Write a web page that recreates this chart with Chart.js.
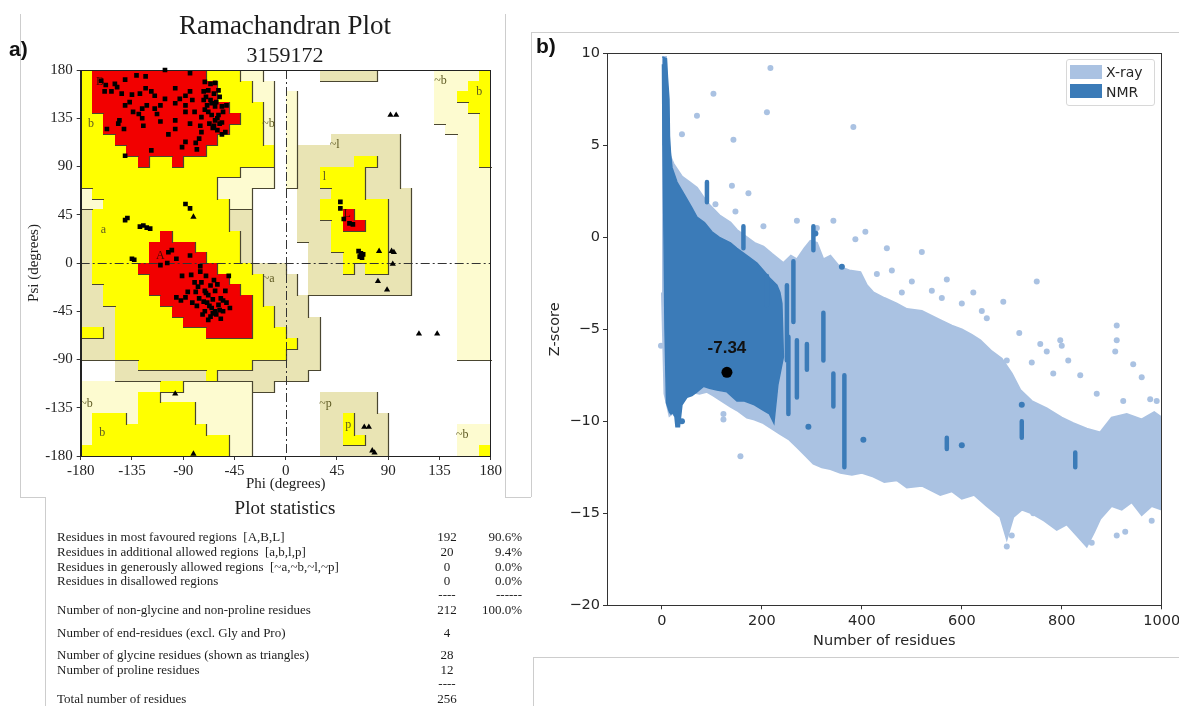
<!DOCTYPE html>
<html>
<head>
<meta charset="utf-8">
<title>Ramachandran plot and ProSA Z-score</title>
<script src="https://cdn.jsdelivr.net/npm/chart.js@4.4.1/dist/chart.umd.min.js"></script>
<style>
  html, body { margin: 0; padding: 0; background: #fff; }
  body { width: 1179px; height: 706px; position: relative; overflow: hidden; font-family: 'Liberation Serif', serif; color: #1c1c1c; }
  canvas { position: absolute; }
  .vr { position: absolute; width: 0; border-left: 1px solid #cdcdcd; }
  .hr { position: absolute; height: 0; border-top: 1px solid #cdcdcd; }
  .tag { position: absolute; font-family: 'Liberation Sans', Arial, sans-serif; font-weight: bold; font-size: 21px; line-height: 24px; color: #111; }
  .title { position: absolute; left: 0; width: 570px; text-align: center; }
  .row { position: absolute; left: 0; width: 530px; height: 15px; line-height: 15px; font-size: 13px; }
  .row .lbl { position: absolute; left: 57px; white-space: pre; }
  .row .num { position: absolute; left: 427px; width: 40px; text-align: center; }
  .row .pct { position: absolute; right: 8px; }
  .legend { position: absolute; left: 1066px; top: 59px; width: 89px; height: 47px; box-sizing: border-box;
            border: 1px solid #d8d8d8; border-radius: 3px; background: rgba(255,255,255,0.85);
            font-family: 'DejaVu Sans', sans-serif; font-size: 14px; color: #262626; }
  .legend .sw { position: absolute; left: 3px; width: 32px; height: 14px; }
  .legend .tx { position: absolute; left: 39px; line-height: 16px; }
</style>
</head>
<body>

<!-- frame lines of the pasted panels -->
<div class="vr" style="left:20px; top:14px; height:483px"></div>
<div class="hr" style="left:20px; top:497px; width:25px"></div>
<div class="vr" style="left:45px; top:497px; height:209px"></div>
<div class="vr" style="left:505px; top:14px; height:483px"></div>
<div class="hr" style="left:505px; top:497px; width:26px"></div>
<div class="vr" style="left:531px; top:32px; height:465px"></div>
<div class="hr" style="left:531px; top:32px; width:648px"></div>
<div class="hr" style="left:533px; top:657px; width:646px"></div>
<div class="vr" style="left:533px; top:657px; height:49px"></div>

<canvas id="rama" width="520" height="500" style="left:0; top:0; width:520px; height:500px"></canvas>
<canvas id="zplot" width="690" height="660" style="left:530px; top:0; width:690px; height:660px"></canvas>

<div class="tag" style="left:9px; top:37px">a)</div>
<div class="tag" style="left:536px; top:34px">b)</div>

<div class="title" style="top:10px; font-size:27px; line-height:30px">Ramachandran Plot</div>
<div class="title" style="top:43px; font-size:22px; line-height:24px">3159172</div>
<div class="title" style="top:497px; font-size:19px; line-height:22px">Plot statistics</div>

<div class="row" style="top:529px"><span class="lbl">Residues in most favoured regions  [A,B,L]</span><span class="num">192</span><span class="pct">90.6%</span></div>
<div class="row" style="top:544px"><span class="lbl">Residues in additional allowed regions  [a,b,l,p]</span><span class="num">20</span><span class="pct">9.4%</span></div>
<div class="row" style="top:559px"><span class="lbl">Residues in generously allowed regions  [~a,~b,~l,~p]</span><span class="num">0</span><span class="pct">0.0%</span></div>
<div class="row" style="top:573px"><span class="lbl">Residues in disallowed regions</span><span class="num">0</span><span class="pct">0.0%</span></div>
<div class="row" style="top:587px"><span class="num">----</span><span class="pct">------</span></div>
<div class="row" style="top:602px"><span class="lbl">Number of non-glycine and non-proline residues</span><span class="num">212</span><span class="pct">100.0%</span></div>
<div class="row" style="top:625px"><span class="lbl">Number of end-residues (excl. Gly and Pro)</span><span class="num">4</span></div>
<div class="row" style="top:647px"><span class="lbl">Number of glycine residues (shown as triangles)</span><span class="num">28</span></div>
<div class="row" style="top:662px"><span class="lbl">Number of proline residues</span><span class="num">12</span></div>
<div class="row" style="top:676px"><span class="num">----</span></div>
<div class="row" style="top:691px"><span class="lbl">Total number of residues</span><span class="num">256</span></div>

<div class="legend">
  <div class="sw" style="top:5px; background:#aac2e2"></div><div class="tx" style="top:4px">X-ray</div>
  <div class="sw" style="top:24px; background:#3b7bb8"></div><div class="tx" style="top:24px">NMR</div>
</div>

<script>
'use strict';

/* ---------- panel a: Ramachandran plot ---------- */
const angleTicks = [-180, -135, -90, -45, 0, 45, 90, 135, 180];

// region boxes, degrees: [phiMin, phiMax, psiMin, psiMax]
const generousPale = [
  [-40, -20, 170, 180], [-30, -10, 150, 170], [-20, -10, 110, 150], [0, 10, 70, 160],
  [-40, -10, 80, 90], [-60, -10, 70, 80], [-180, -170, 60, 70], [-60, -30, 60, 70],
  [-180, -160, 50, 60], [-50, -30, 50, 60], [130, 180, 130, 180], [140, 180, 120, 130],
  [150, 180, -90, 120], [150, 180, -180, -150], [-180, -30, -180, -110]
];
const generousKhaki = [
  [30, 80, 170, 180], [40, 100, 110, 120], [10, 100, 70, 110], [10, 110, 20, 70], [20, 110, -30, 20],
  [-60, -30, 0, 50], [-30, 0, -10, 0], [-20, 0, -40, -10], [-10, 0, -60, -40], [0, 10, -30, -10],
  [0, 20, -50, -30], [0, 30, -100, -50], [0, 20, -110, -100], [-30, 0, -100, -90],
  [-150, 0, -110, -100], [-150, -130, -100, -90], [-30, -10, -120, -110],
  [-180, -170, -20, 50], [-180, -160, -40, -20], [-180, -150, -60, -40], [-160, -150, -70, -60],
  [-180, -150, -90, -70], [30, 80, -180, -120], [80, 90, -180, -140]
];
const allowedBoxes = [
  [-180, -40, 170, 180], [-180, -30, 150, 170], [-180, -20, 110, 150], [-180, -10, 90, 110],
  [-180, -40, 80, 90], [-180, -60, 70, 80], [-170, -60, 60, 70], [-160, -50, 50, 60],
  [-170, -50, 30, 50], [-170, -40, 0, 30], [-170, -30, -10, 0], [-170, -20, -20, -10],
  [-160, -20, -40, -20], [-150, -10, -60, -40], [-180, -160, -70, -60], [-150, 0, -70, -60],
  [-150, 0, -90, -70], [0, 10, -80, -70], [-130, -30, -100, -90], [-70, -60, -110, -100],
  [-110, -90, -120, -110], [-130, -110, -130, -120], [-130, -80, -140, -130],
  [-170, -140, -150, -140], [-130, -80, -150, -140], [-170, -70, -160, -150],
  [-170, -50, -170, -160], [-180, -50, -180, -170],
  [60, 80, 90, 100], [30, 70, 70, 90], [40, 70, 60, 70], [30, 90, 40, 60], [40, 90, 10, 40],
  [50, 90, 0, 10], [50, 60, -10, 0], [70, 90, -10, 0], [50, 60, -170, -140], [50, 70, -170, -160],
  [170, 180, 90, 180], [160, 170, 140, 170], [150, 160, 150, 160], [170, 180, -180, -170]
];
const coreBoxes = [
  [-170, -70, 170, 180], [-170, -60, 150, 170], [-170, -50, 140, 150], [-160, -40, 130, 140],
  [-160, -50, 120, 130], [-150, -60, 110, 120], [-140, -70, 100, 110], [-130, -120, 90, 100],
  [-100, -90, 90, 100],
  [-110, -100, 20, 30], [-120, -80, 10, 20], [-120, -70, 0, 10], [-130, -60, -10, 0],
  [-120, -50, -20, -10], [-120, -40, -30, -20], [-110, -30, -40, -30], [-100, -30, -50, -40],
  [-90, -30, -60, -50], [-70, -30, -70, -60],
  [50, 60, 40, 50], [50, 70, 30, 40]
];

// non-glycine residues [phi, psi]
const residues = [
  [-162, 170], [-158, 166], [-150, 167], [-141, 171], [-131, 175], [-123, 174], [-106, 180], [-84, 177],
  [-71, 169], [-66, 167], [-62, 168], [-159, 160], [-148, 164], [-144, 158], [-128, 158], [-123, 163],
  [-118, 160], [-115, 156], [-97, 163], [-88, 156], [-84, 160], [-72, 160], [-68, 161], [-63, 158],
  [-59, 161], [-141, 147], [-137, 150], [-126, 144], [-122, 147], [-110, 147], [-106, 153], [-97, 149],
  [-93, 153], [-88, 147], [-82, 152], [-72, 152], [-69, 147], [-65, 149], [-62, 146], [-56, 146],
  [-52, 147], [-146, 133], [-134, 141], [-129, 139], [-126, 135], [-115, 144], [-97, 133], [-88, 141],
  [-80, 141], [-74, 136], [-68, 141], [-65, 138], [-59, 138], [-55, 141], [-62, 133], [-58, 130],
  [-157, 125], [-147, 130], [-142, 125], [-125, 128], [-97, 125], [-84, 130], [-74, 122], [-63, 128],
  [-56, 131], [-53, 122], [-60, 124], [-141, 100], [-118, 105], [-91, 108], [-88, 113], [-78, 106],
  [-76, 116], [-56, 120], [-70, 155], [-66, 152], [-61, 150], [-58, 155], [-67, 130], [-64, 126],
  [-71, 143], [-60, 135], [-75, 128], [-79, 112], [-103, 120], [-110, 132], [-113, 139], [-135, 157],
  [-153, 160],
  [-135, 4], [-133, 3], [-110, -2], [-104, 0], [-103, 10], [-100, 12], [-96, 4], [-84, 7], [-75, -3],
  [-91, -12], [-83, -11], [-50, -12], [-96, -32], [-80, -18], [-77, -22], [-74, -18], [-71, -26],
  [-69, -37], [-68, -30], [-66, -21], [-65, -42], [-64, -34], [-62, -26], [-61, -48], [-59, -39],
  [-57, -33], [-55, -45], [-53, -26], [-52, -37], [-49, -42], [-71, -45], [-73, -48], [-78, -40],
  [-82, -37], [-88, -32], [-92, -35], [-66, -50], [-62, -45], [-58, -44], [-68, -53], [-70, -28],
  [-76, -33], [-63, -16], [-79, -27], [-86, -27], [-60, -20], [-57, -52], [-72, -36], [-67, -40],
  [-64, -47], [-55, -35], [-70, -12], [-75, -8],
  [-141, 40], [-139, 42], [-128, 34], [-125, 35], [-122, 33], [-119, 32], [-88, 55], [-84, 51],
  [48, 57], [48, 51], [51, 41], [56, 37], [59, 36], [64, 11], [66, 9], [65, 6], [68, 8], [67, 5]
];
// glycine residues [phi, psi]
const glycines = [
  [-81, 43], [92, 138], [97, 138], [82, 11], [93, 11], [95, 10], [94, -1], [81, -17], [89, -25],
  [117, -66], [133, -66], [-97, -122], [-81, -178], [69, -153], [73, -153], [76, -175], [78, -177]
];

const regionLabels = [
  ['B', -163, 169], ['b', -171, 130], ['~b', -15, 130], ['a', -160, 31], ['A', -110, 7],
  ['~a', -15, -15], ['~l', 43, 110], ['l', 34, 80], ['L', 54, 46], ['~b', 136, 170],
  ['b', 170, 160], ['~b', -175, -131], ['b', -161, -158], ['~p', 35, -131], ['p', 55, -151],
  ['~b', 155, -160]
];

/* ---------- panel b: ProSA Z-score ---------- */
const residueTicks = [0, 200, 400, 600, 800, 1000];
const zTicks = [-20, -15, -10, -5, 0, 5, 10];

// outline of the X-ray cloud [residues, z]
const xrayUpper = [
  [0, 9.8], [8, 9.8], [10, 6.5], [15, 4.5], [23, 4.0], [40, 3.3], [55, 3.0], [70, 2.7], [85, 2.1],
  [97, 1.7], [115, 1.2], [137, 0.8], [150, 0.4], [170, 0.0], [185, -0.3], [203, -0.5], [220, -0.9],
  [243, -1.4], [258, -1.0], [270, -1.2], [285, -0.6], [297, -0.2], [310, -0.3], [323, -1.2],
  [337, -1.0], [355, -1.6], [375, -1.8], [397, -1.9], [410, -2.6], [423, -3.0], [445, -3.3],
  [470, -3.6], [490, -3.9], [520, -4.0], [557, -4.5], [580, -4.8], [600, -5.0], [620, -5.3],
  [637, -5.6], [660, -6.2], [680, -6.6], [700, -7.4], [717, -8.3], [740, -8.9], [770, -9.3],
  [800, -9.8], [823, -10.1], [850, -10.4], [877, -10.6], [900, -9.8], [930, -9.6], [960, -9.9],
  [985, -9.5], [1000, -9.8]
];
const xrayLower = [
  [0, -3.0], [5, -8.5], [15, -9.7], [30, -9.4], [45, -8.8], [56, -8.4], [75, -8.5], [90, -8.4],
  [103, -8.6], [120, -8.9], [137, -9.2], [150, -9.4], [170, -9.8], [185, -9.9], [203, -10.1],
  [220, -10.4], [237, -10.7], [255, -11.0], [270, -11.4], [285, -11.8], [303, -12.3], [320, -12.5],
  [337, -12.6], [357, -12.8], [380, -12.9], [400, -12.8], [423, -13.0], [445, -13.3], [470, -13.2],
  [490, -13.6], [520, -13.5], [557, -14.0], [580, -13.8], [600, -14.2], [625, -14.0], [650, -14.6],
  [677, -15.2], [690, -16.4], [703, -15.2], [720, -14.8], [740, -15.0], [765, -15.4], [790, -15.9],
  [810, -15.6], [830, -16.2], [850, -16.8], [865, -16.0], [877, -15.3], [900, -14.6], [920, -14.8],
  [940, -14.4], [960, -15.1], [980, -14.6], [1000, -14.8]
];
// scattered X-ray structures outside the dense cloud
const xrayDots = [
  [217, 9.2], [103, 7.8], [70, 6.6], [210, 6.8], [143, 5.3], [40, 5.6], [383, 6.0], [140, 2.8],
  [173, 2.4], [107, 1.8], [147, 1.4], [203, 0.6], [270, 0.9], [343, 0.9], [310, 0.5], [387, -0.1],
  [407, 0.3], [450, -0.6], [520, -0.8], [570, -2.3], [623, -3.0], [683, -3.5], [750, -2.4],
  [797, -5.6], [770, -6.2], [910, -4.8], [910, -5.6], [907, -6.2], [943, -6.9], [977, -8.8],
  [923, -8.9], [837, -7.5], [813, -6.7], [783, -7.4], [740, -6.8], [690, -6.7], [757, -5.8],
  [800, -5.9], [910, -16.2], [927, -16.0], [980, -15.4], [743, -15.0], [157, -11.9], [123, -9.6],
  [123, -9.9], [-2, -5.9], [690, -16.8], [700, -16.2], [860, -16.6], [460, -1.8], [500, -2.4],
  [540, -2.9], [600, -3.6], [650, -4.4], [715, -5.2], [430, -2.0], [480, -3.0], [560, -3.3],
  [640, -4.0], [870, -8.5], [960, -7.6], [990, -8.9]
];

// outline of the NMR cloud [residues, z]
const nmrUpper = [
  [1, 9.8], [9, 9.7], [11, 8.7], [14, 7.5], [15, 5.5], [17, 4.6], [20, 3.8], [30, 3.0], [45, 2.3],
  [60, 1.6], [70, 1.1], [85, 0.8], [100, 0.3], [115, 0.0], [137, -0.3], [150, -0.6], [170, -1.0],
  [190, -1.4], [203, -1.8], [215, -2.2], [230, -2.6], [236, -3.0], [240, -3.6], [243, -6.5]
];
const nmrLower = [
  [1, 9.4], [2, 5.0], [4, 0.0], [6, -5.0], [9, -9.0], [15, -9.5], [18, -9.6], [25, -9.5],
  [28, -10.3], [35, -10.3], [40, -9.1], [50, -8.7], [60, -8.6], [70, -8.4], [83, -8.1], [95, -8.2],
  [110, -8.3], [130, -8.4], [150, -8.9], [165, -8.9], [185, -9.1], [203, -9.4], [215, -9.6],
  [224, -10.1], [232, -8.0], [243, -6.5]
];
// vertical NMR runs [residues, zTop, zBottom]
const nmrStreaks = [
  [90, 3.0, 1.9], [163, 0.6, -0.6], [210, -2.1, -3.7], [250, -2.6, -6.7], [263, -1.3, -4.6],
  [253, -5.4, -9.6], [270, -5.6, -8.7], [290, -5.8, -7.2], [303, 0.6, -0.7], [323, -4.1, -6.7],
  [343, -7.4, -9.2], [365, -7.5, -12.5], [570, -10.9, -11.5], [720, -10.0, -10.9], [827, -11.7, -12.5]
];
const nmrDots = [[293, -10.3], [403, -11.0], [600, -11.3], [720, -9.1], [360, -1.6], [307, 0.2], [40, -10.0], [28, -9.6]];

const query = { n: 130, z: -7.34 };

/* ---------- shared helpers ---------- */
const XRAY = '#aac2e2';
const NMR = '#3b7bb8';
const serif = { family: 'Liberation Serif', size: 15 };
const mpl = { family: 'DejaVu Sans', size: 14.5 };
const pts = arr => arr.map(([x, y]) => ({ x, y }));
const fixedTicks = list => axis => { axis.ticks = list.map(v => ({ value: v })); };
const plain = v => String(v);
const minus = v => (v < 0 ? '\u2212' + Math.abs(v) : String(v));

/* ---------- Ramachandran regions ---------- */
const REGION_FILL = { p: '#fdfbd0', g: '#e9e4b4', y: '#ffff00', r: '#f20000' };
const LEVEL = { '.': 0, p: 1, g: 1, y: 2, r: 3 };

function rasterize() {
  const grid = Array.from({ length: 36 }, () => Array(36).fill('.'));
  const paint = (boxes, code) => boxes.forEach(([p0, p1, s0, s1]) => {
    for (let c = (p0 + 180) / 10; c < (p1 + 180) / 10; c++)
      for (let r = (180 - s1) / 10; r < (180 - s0) / 10; r++) grid[r][c] = code;
  });
  paint(generousPale, 'p');
  paint(generousKhaki, 'g');
  paint(allowedBoxes, 'y');
  paint(coreBoxes, 'r');
  return grid;
}
const ramaGrid = rasterize();

const ramaRegions = {
  id: 'ramaRegions',
  beforeDatasetsDraw(chart) {
    const { ctx, chartArea: a, scales: { x, y } } = chart;
    const X = v => Math.round(x.getPixelForValue(v));
    const Y = v => Math.round(y.getPixelForValue(v));
    ctx.save();

    ramaGrid.forEach((row, r) => row.forEach((code, c) => {
      if (code === '.') return;
      const phi = -180 + c * 10, psi = 180 - r * 10;
      ctx.fillStyle = REGION_FILL[code];
      ctx.fillRect(X(phi), Y(psi), X(phi + 10) - X(phi), Y(psi - 10) - Y(psi));
    }));

    // shadow lines on right / lower edges of each region
    ctx.strokeStyle = '#4a4630';
    ctx.lineWidth = 1.2;
    ctx.beginPath();
    ramaGrid.forEach((row, r) => row.forEach((code, c) => {
      const phi = -180 + c * 10, psi = 180 - r * 10;
      const right = row[c + 1];
      const below = ramaGrid[r + 1] ? ramaGrid[r + 1][c] : undefined;
      if (right && right !== code && LEVEL[code] >= LEVEL[right]) {
        ctx.moveTo(X(phi + 10) + 0.5, Y(psi));
        ctx.lineTo(X(phi + 10) + 0.5, Y(psi - 10) + 1);
      }
      if (below && below !== code && LEVEL[code] >= LEVEL[below]) {
        ctx.moveTo(X(phi), Y(psi - 10) + 0.5);
        ctx.lineTo(X(phi + 10) + 1, Y(psi - 10) + 0.5);
      }
    }));
    ctx.stroke();

    // dash-dot zero lines
    ctx.setLineDash([9, 3, 2, 3]);
    ctx.strokeStyle = '#333';
    ctx.lineWidth = 1;
    ctx.beginPath();
    ctx.moveTo(X(0) + 0.5, a.top); ctx.lineTo(X(0) + 0.5, a.bottom);
    ctx.moveTo(a.left, Y(0) + 0.5); ctx.lineTo(a.right, Y(0) + 0.5);
    ctx.stroke();
    ctx.setLineDash([]);

    ctx.font = '12px "Liberation Serif"';
    ctx.textAlign = 'center';
    ctx.textBaseline = 'middle';
    regionLabels.forEach(([t, phi, psi]) => {
      ctx.fillStyle = /^[ABL]$/.test(t) ? '#3a0a00' : '#5e5a22';
      ctx.fillText(t, x.getPixelForValue(phi), y.getPixelForValue(psi));
    });

    ctx.strokeStyle = '#222';
    ctx.strokeRect(Math.round(a.left) + 0.5, Math.round(a.top) + 0.5, Math.round(a.width) - 1, Math.round(a.height));
    ctx.restore();
  }
};

new Chart(document.getElementById('rama'), {
  type: 'scatter',
  data: {
    datasets: [
      { data: pts(glycines), pointStyle: 'triangle', pointRadius: 3.6, backgroundColor: '#000', borderWidth: 0, clip: 6 },
      { data: pts(residues), pointStyle: 'rect', pointRadius: 3.3, backgroundColor: '#000', borderWidth: 0, clip: 6 }
    ]
  },
  options: {
    responsive: false,
    animation: false,
    devicePixelRatio: 1,
    layout: { padding: { left: 20.7, right: 29.3, top: 70, bottom: 7 } },
    plugins: { legend: { display: false }, tooltip: { enabled: false } },
    scales: {
      x: {
        type: 'linear', min: -180, max: 180,
        afterBuildTicks: fixedTicks(angleTicks),
        afterFit: s => { s.height = 37; },
        ticks: { font: serif, color: '#222', padding: 2, autoSkip: false, maxRotation: 0, callback: plain },
        grid: { drawOnChartArea: false, tickLength: 4, tickColor: '#333' },
        border: { color: '#222' },
        title: { display: true, text: 'Phi (degrees)', font: serif, color: '#222', padding: { top: 0, bottom: 0 } }
      },
      y: {
        type: 'linear', min: -180, max: 180,
        afterBuildTicks: fixedTicks(angleTicks),
        afterFit: s => { s.width = 60; },
        ticks: { font: serif, color: '#222', padding: 4, autoSkip: false, callback: plain },
        grid: { drawOnChartArea: false, tickLength: 4, tickColor: '#333' },
        border: { color: '#222' },
        title: { display: true, text: 'Psi (degrees)', font: serif, color: '#222', padding: { top: 4, bottom: 0 } }
      }
    }
  },
  plugins: [ramaRegions]
});

/* ---------- Z-score plot ---------- */
const zDecor = {
  id: 'zDecor',
  afterDatasetsDraw(chart) {
    const { ctx, chartArea: a, scales: { x, y } } = chart;
    ctx.save();
    ctx.strokeStyle = '#333';
    ctx.lineWidth = 1;
    ctx.strokeRect(Math.round(a.left) + 0.5, Math.round(a.top) + 0.5, Math.round(a.width) - 1, Math.round(a.height));
    ctx.font = 'bold 17px "Liberation Sans"';
    ctx.fillStyle = '#111';
    ctx.textAlign = 'center';
    ctx.textBaseline = 'middle';
    ctx.fillText(query.z.toFixed(2), x.getPixelForValue(query.n), y.getPixelForValue(query.z) - 24);
    ctx.restore();
  }
};

new Chart(document.getElementById('zplot'), {
  type: 'scatter',
  data: {
    datasets: [
      { data: [{ x: query.n, y: query.z }], pointRadius: 5.5, backgroundColor: '#000', borderWidth: 0 },
      {
        data: nmrStreaks.flatMap(([n, top, bot]) => [{ x: n, y: top }, { x: n, y: bot }, { x: n, y: null }]),
        showLine: true, spanGaps: false, borderColor: NMR, borderWidth: 4.5, borderCapStyle: 'round', pointRadius: 0
      },
      { data: pts(nmrDots), pointRadius: 3, backgroundColor: NMR, borderWidth: 0 },
      { data: pts(nmrUpper), showLine: true, fill: '+1', backgroundColor: NMR, borderColor: NMR, borderWidth: 1.5, pointRadius: 0 },
      { data: pts(nmrLower), showLine: true, borderColor: NMR, borderWidth: 1.5, pointRadius: 0 },
      { data: pts(xrayDots), pointRadius: 3, backgroundColor: XRAY, borderWidth: 0 },
      { data: pts(xrayUpper), showLine: true, fill: '+1', backgroundColor: XRAY, borderColor: XRAY, borderWidth: 2, pointRadius: 0 },
      { data: pts(xrayLower), showLine: true, borderColor: XRAY, borderWidth: 2, pointRadius: 0 }
    ]
  },
  options: {
    responsive: false,
    animation: false,
    devicePixelRatio: 1,
    layout: { padding: { left: 17, right: 58.3, top: 53.3, bottom: 9.7 } },
    plugins: { legend: { display: false }, tooltip: { enabled: false } },
    scales: {
      x: {
        type: 'linear', min: -110, max: 1000,
        afterBuildTicks: fixedTicks(residueTicks),
        afterFit: s => { s.height = 45; },
        ticks: { font: mpl, color: '#262626', padding: 3, autoSkip: false, maxRotation: 0, callback: plain },
        grid: { drawOnChartArea: false, tickLength: 4, tickColor: '#333' },
        border: { color: '#333' },
        title: { display: true, text: 'Number of residues', font: mpl, color: '#262626', padding: { top: 0, bottom: 0 } }
      },
      y: {
        type: 'linear', min: -20, max: 10,
        afterBuildTicks: fixedTicks(zTicks),
        afterFit: s => { s.width = 60; },
        ticks: { font: mpl, color: '#262626', padding: 3, callback: minus },
        grid: { drawOnChartArea: false, tickLength: 4, tickColor: '#333' },
        border: { color: '#333' },
        title: { display: true, text: 'Z-score', font: mpl, color: '#262626', padding: { top: 0, bottom: 0 } }
      }
    }
  },
  plugins: [zDecor]
});
</script>
</body>
</html>
